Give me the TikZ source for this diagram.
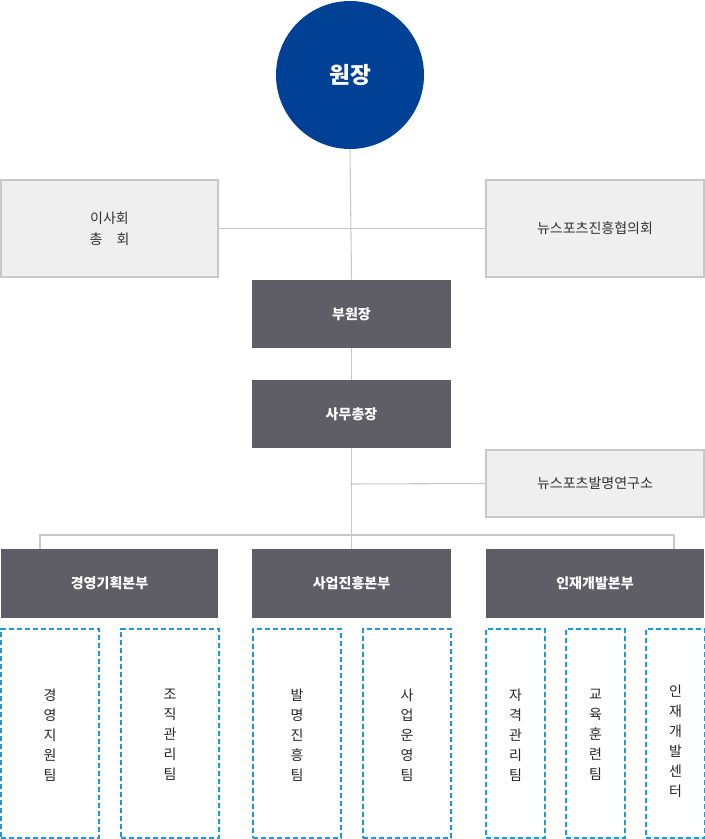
\documentclass[tikz,border=0pt]{standalone}
\usepackage{fontspec}
\setmainfont{Noto Sans CJK KR}
\definecolor{navy}{RGB}{0,64,149}
\definecolor{dk}{RGB}{95,94,102}
\definecolor{lt}{RGB}{239,239,239}
\definecolor{ln}{RGB}{200,200,200}
\definecolor{bl}{RGB}{26,154,214}
\begin{document}
\begin{tikzpicture}[x=0.75pt,y=-0.75pt,
 gbox/.style={draw=ln,fill=lt,line width=1.2pt,inner sep=0,font=\fontsize{10.5}{16}\selectfont,text=black!80,align=center},
 dbox/.style={fill=dk,inner sep=0,font=\fontsize{10.5}{13}\selectfont\bfseries,text=white},
 tbox/.style={draw=bl,dashed,line width=1pt,dash pattern=on 4pt off 2pt,inner sep=0},
 vt/.style={font=\fontsize{10.5}{15}\selectfont,align=center,text=black!85},
 conn/.style={draw=ln,line width=0.8pt}]
\useasboundingbox (0,0) rectangle (705,839);
\node[circle,fill=navy,minimum size=148*0.75pt,inner sep=0,text=white,font=\fontsize{17}{20}\selectfont\bfseries] (ceo) at (350,75) {원장};
\node[gbox,minimum width=217*0.75pt,minimum height=97*0.75pt] (bd) at (109.5,228.5) {이사회\\총\quad 회};
\node[gbox,minimum width=218*0.75pt,minimum height=97*0.75pt] (nc) at (595,228.5) {뉴스포츠진흥협의회};
\node[dbox,minimum width=199*0.75pt,minimum height=68*0.75pt] (vp) at (351.5,314) {부원장};
\node[dbox,minimum width=199*0.75pt,minimum height=68*0.75pt] (sg) at (351.5,414) {사무총장};
\node[gbox,minimum width=218*0.75pt,minimum height=67*0.75pt] (ri) at (595,483.5) {뉴스포츠발명연구소};
\node[dbox,minimum width=217*0.75pt,minimum height=69*0.75pt] (d1) at (109.5,583.5) {경영기획본부};
\node[dbox,minimum width=199*0.75pt,minimum height=69*0.75pt] (d2) at (351.5,583.5) {사업진흥본부};
\node[dbox,minimum width=218*0.75pt,minimum height=69*0.75pt] (d3) at (595,583.5) {인재개발본부};
\coordinate (top) at (350,535);
\coordinate (l) at (40,535);
\coordinate (r) at (674,535);
\draw[conn] (ceo.south) -- (vp.north);
\draw[conn] (vp.south) -- (sg.north);
\draw[conn] (sg.south) -- (d2.north);
\draw[conn] (bd.east) -- (nc.west);
\draw[conn] (350,484) -- (ri.west);
\draw[conn] (40,549) -- (l) -- (r) -- (674,549);
\foreach \n/\x/\w/\t in {t1/50/98/{경\\영\\지\\원\\팀},t2/170/98/{조\\직\\관\\리\\팀},t3/297/88/{발\\명\\진\\흥\\팀},t4/407/88/{사\\업\\운\\영\\팀},t5/515.5/59/{자\\격\\관\\리\\팀},t6/595.5/59/{교\\육\\훈\\련\\팀}}{
 \node[tbox,minimum width=\w*0.75pt,minimum height=209*0.75pt] (\n) at (\x,733.5) {};
 \node[vt] at (\n.center) [yshift=-0.75pt*(733.5-732)] {\t};
}
\node[tbox,minimum width=59*0.75pt,minimum height=209*0.75pt] (t7) at (675.5,733.5) {};
\node[vt,anchor=north] at (675.5,680) {인\\재\\개\\발\\센\\터};
\end{tikzpicture}
\end{document}
